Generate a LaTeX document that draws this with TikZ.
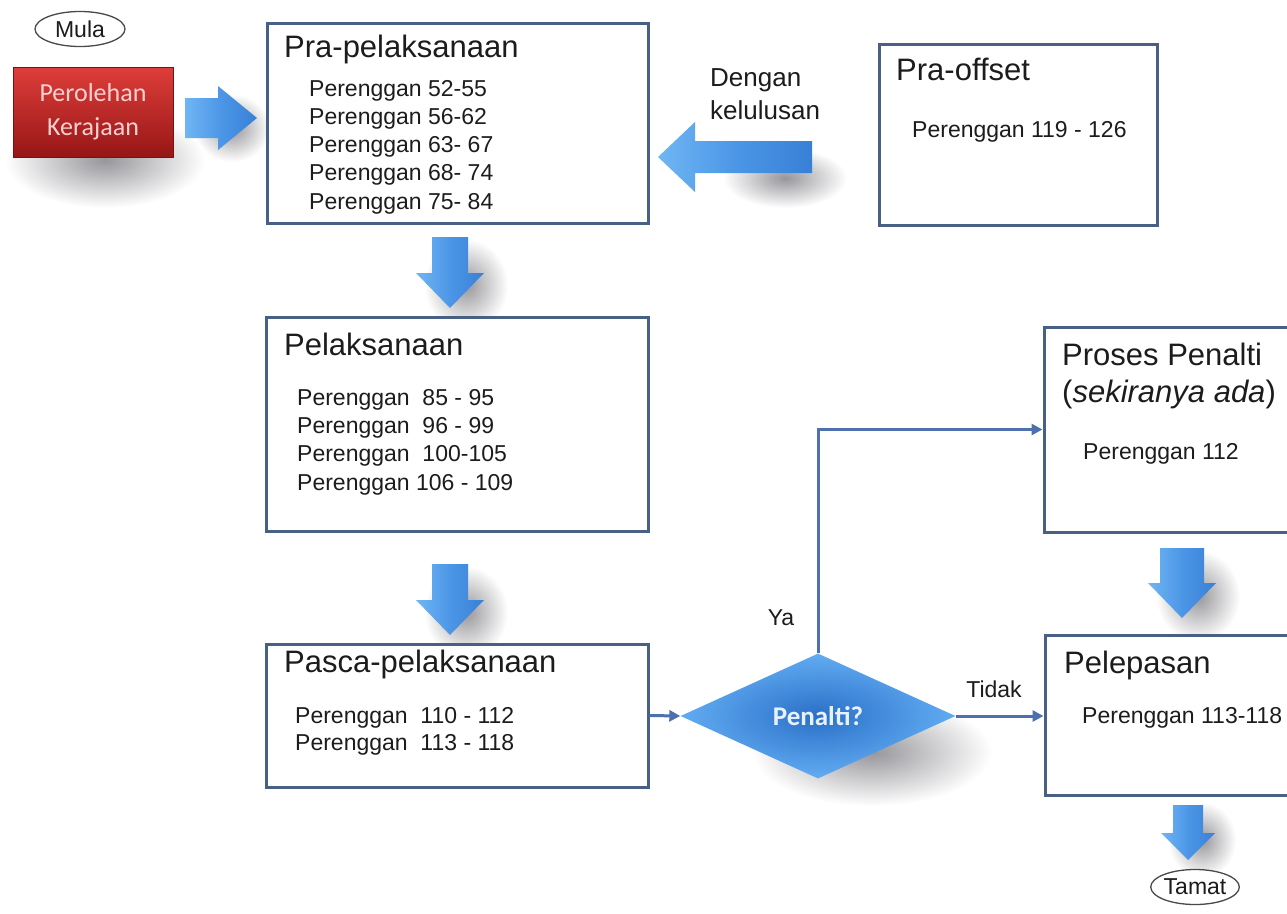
\documentclass[tikz,border=0pt]{standalone}
\usepackage{fontspec}
\setmainfont{Liberation Sans}
\newfontfamily\calfont{Carlito}
\usetikzlibrary{shapes.geometric,arrows.meta}

\definecolor{boxline}{RGB}{72,96,132}
\definecolor{connblue}{RGB}{78,112,172}
\definecolor{ink}{RGB}{28,28,28}
\definecolor{arrowlight}{RGB}{112,182,244}
\definecolor{arrowmid}{RGB}{76,150,230}
\definecolor{arrowdark}{RGB}{56,128,214}
\definecolor{redtop}{RGB}{222,62,58}
\definecolor{redbot}{RGB}{150,22,22}
\definecolor{pinktext}{RGB}{250,208,208}
\definecolor{diainner}{RGB}{42,112,200}
\definecolor{diaouter}{RGB}{98,172,242}
\definecolor{diatext}{RGB}{232,242,255}
\definecolor{shadowgray}{RGB}{150,150,155}

% down-pointing block arrow: centre x, top y, head start y, tip y, shaft half width, head half width
\newcommand\downblock[6]{%
  \path[blockarrow] ({#1-#5},#2) -- ({#1+#5},#2) -- ({#1+#5},#3) -- ({#1+#6},#3)
    -- (#1,#4) -- ({#1-#6},#3) -- ({#1-#5},#3) -- cycle;}
% soft shadow on the white page: centre x, centre y, x radius, y radius
\newcommand\softshade[4]{\path[softshadow] (#1,#2) ellipse (#3pt and #4pt);}

\tikzset{
  stagebox/.style={draw=boxline, line width=3pt, fill=white, rectangle, inner sep=0pt},
  title/.style={anchor=base west, inner sep=0pt, text=ink, font=\fontsize{31}{34}\selectfont},
  item/.style={anchor=base west, inner sep=0pt, text=ink, font=\fontsize{23}{27}\selectfont},
  terminal/.style={ellipse, draw=ink!80, line width=1.3pt, fill=white, inner sep=0pt,
    text=ink, font=\fontsize{23}{26}\selectfont},
  conn/.style={draw=connblue, line width=3pt, -{Triangle[length=11pt,width=11pt]}},
  label/.style={inner sep=0pt, text=ink, font=\fontsize{23}{27}\selectfont},
  softshadow/.style={inner color=shadowgray, outer color=white},
  blockarrow/.style={left color=arrowlight, right color=arrowdark, middle color=arrowmid},
  redbox/.style={rectangle, top color=redtop, bottom color=redbot, draw=redbot!80!black, line width=0.6pt,
    minimum width=160pt, minimum height=90pt, inner sep=0pt, align=center, text=pinktext,
    font=\calfont\fontsize{26}{34}\selectfont},
  decision/.style={diamond, minimum width=275pt, minimum height=125pt, inner sep=0pt,
    inner color=diainner, outer color=diaouter, text=diatext,
    font=\calfont\bfseries\fontsize{27}{30}\selectfont},
}

\begin{document}
\begin{tikzpicture}[x=1pt,y=-1pt]
\useasboundingbox (0,0) rectangle (1287,913);
\fill[white] (0,0) rectangle (1287,913);
\clip (0,0) rectangle (1287,913);

% soft shadows, laid down first
\softshade{105}{160}{100}{48}
\softshade{232}{128}{38}{34}
\softshade{785}{178}{62}{30}
\softshade{466}{285}{42}{46}
\softshade{466}{612}{42}{46}
\softshade{1198}{596}{42}{46}
\softshade{1202}{840}{34}{38}
\softshade{872}{752}{120}{54}

% start and the acquisition block
\node[terminal, minimum width=90pt, minimum height=35pt] (mula) at (80,29) {Mula};
\node[redbox] (gov) at (93,112) {Perolehan\\Kerajaan};

% block arrows
\path[blockarrow] (185,98) -- (218,98) -- (218,86) -- (257,118) -- (218,150) -- (218,138) -- (185,138) -- cycle;
\path[blockarrow] (812,141) -- (695,141) -- (695,122) -- (658,157) -- (695,192) -- (695,173) -- (812,173) -- cycle;
\downblock{450}{237}{273}{308}{18}{34}
\downblock{450}{564}{600}{635}{18}{34}
\downblock{1182}{548}{583}{618}{22}{34}
\downblock{1188}{805}{833}{860}{15}{27}

% stage boxes
\node[stagebox, minimum width=381pt, minimum height=200pt] (pra) at (457.5,123) {};
\node[stagebox, minimum width=382pt, minimum height=214pt] (pel) at (457,424) {};
\node[stagebox, minimum width=382pt, minimum height=143pt] (pas) at (457,715.5) {};
\node[stagebox, minimum width=278pt, minimum height=181pt] (off) at (1018,134.5) {};
\node[stagebox, minimum width=266pt, minimum height=205pt] (pen) at (1177,429.5) {};
\node[stagebox, minimum width=266pt, minimum height=160pt] (lep) at (1178,715) {};

% texts of Pra-pelaksanaan
\node[title] (praT) at (284,57) {Pra-pelaksanaan};
\node[item] (pra1) at (309,96) {Perenggan 52-55};
\node[item] (pra2) at (309,124) {Perenggan 56-62};
\node[item] (pra3) at (309,152) {Perenggan 63- 67};
\node[item] (pra4) at (309,180) {Perenggan 68- 74};
\node[item] (pra5) at (309,209) {Perenggan 75- 84};

% texts of Pelaksanaan
\node[title] (pelT) at (284,355) {Pelaksanaan};
\node[item] (pel1) at (297,405) {Perenggan\ \ 85 - 95};
\node[item] (pel2) at (297,433) {Perenggan\ \ 96 - 99};
\node[item] (pel3) at (297,461) {Perenggan\ \ 100-105};
\node[item] (pel4) at (297,490) {Perenggan 106 - 109};

% texts of Pasca-pelaksanaan
\node[title] (pasT) at (284,672) {Pasca-pelaksanaan};
\node[item] (pas1) at (295,723) {Perenggan\ \ 110 - 112};
\node[item] (pas2) at (295,750) {Perenggan\ \ 113 - 118};

% texts of Pra-offset
\node[title] (offT) at (896,80) {Pra-offset};
\node[item] (off1) at (912,137) {Perenggan 119 - 126};
\node[label, align=left, anchor=north west, font=\fontsize{26}{33}\selectfont] (lulus) at (710,68) {Dengan\\kelulusan};

% texts of Proses Penalti
\node[title] (penT) at (1062,365) {Proses Penalti};
\node[title] (penS) at (1062,402) {(\textit{sekiranya ada})};
\node[item] (pen1) at (1083,459) {Perenggan 112};

% texts of Pelepasan
\node[title] (lepT) at (1064,673) {Pelepasan};
\node[item] (lep1) at (1082,723) {Perenggan 113-118};

% decision and its branches
\node[decision] (dia) at (818,716) {Penalti?};
\draw[conn] (pas.east) -- (dia.west);
\draw[conn] (dia.north) |- (pen.west);
\draw[conn] (dia.east) -- (dia.east -| lep.west);
\node[label] (ya) at (781,618) {Ya};
\node[label] (tidak) at (994,689) {Tidak};

% end
\node[terminal, minimum width=78pt, minimum height=35pt] (tamat) at (1195,887) {Tamat};
\end{tikzpicture}
\end{document}
